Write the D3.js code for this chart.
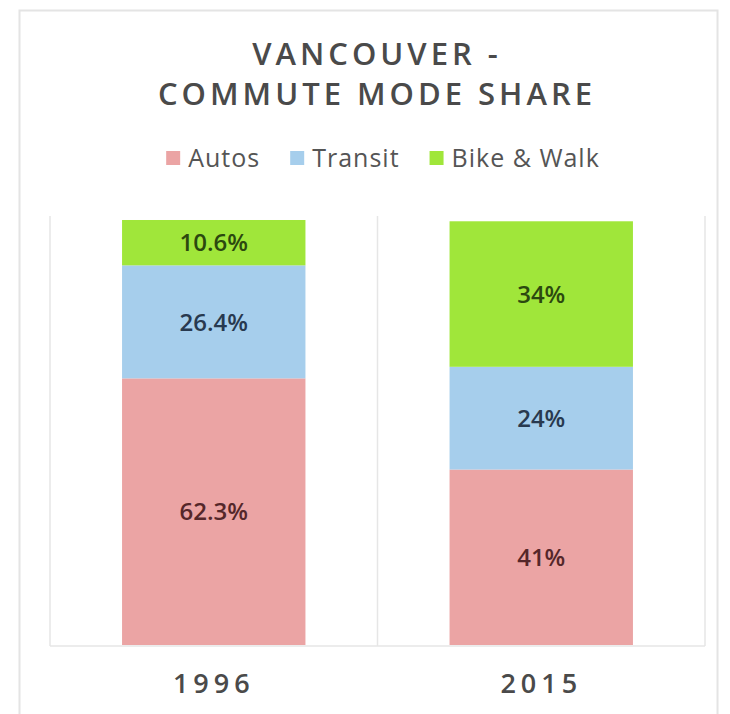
<!DOCTYPE html>
<html lang="en">
<head>
    <meta charset="UTF-8">
    <title>Vancouver - Commute Mode Share</title>
    <style>
        body {
            margin: 0;
            padding: 0;
            background-color: #fff;
        }

        svg text {
            font-family: "Open Sans", "DejaVu Sans", sans-serif;
        }
    </style>
</head>
<body>

<svg id="chart" width="730" height="714"></svg>

<script src="https://d3js.org/d3.v7.min.js"></script>
<script>
    // chart data
    const years = ["1996", "2015"];
    const modes = ["Autos", "Transit", "Bike & Walk"];
    const autos = [62.3, 41];
    const transit = [26.4, 24];
    const bikeWalk = [10.6, 34];
    const valueLabels = [
        ["62.3%", "41%"],
        ["26.4%", "24%"],
        ["10.6%", "34%"]
    ];
    const titleLines = ["VANCOUVER -", "COMMUTE MODE SHARE"];

    const fills = ["#eba4a4", "#a6ceec", "#a0e63a"];
    const labelColors = ["#55272a", "#28394f", "#2c480f"];

    const width = 730, height = 714;
    const plot = {left: 50, right: 705, top: 216, bottom: 646};

    const svg = d3.select("#chart");

    svg.append("rect")
        .attr("width", width)
        .attr("height", height)
        .attr("fill", "#fff");

    // outer chart frame
    svg.append("rect")
        .attr("x", 19.5)
        .attr("y", 10.5)
        .attr("width", 698)
        .attr("height", 720)
        .attr("fill", "none")
        .attr("stroke", "#e4e4e4")
        .attr("stroke-width", 2);

    // title
    svg.append("text")
        .attr("text-anchor", "middle")
        .attr("fill", "#4a4a4a")
        .style("font-size", "31px")
        .style("font-weight", 600)
        .style("letter-spacing", "4px")
        .selectAll("tspan")
        .data(titleLines)
        .enter().append("tspan")
        .attr("x", 377)
        .attr("y", (d, i) => 65 + i * 40)
        .text(d => d);

    // stack the series
    const rows = years.map((y, i) => ({year: y, Autos: autos[i], Transit: transit[i], "Bike & Walk": bikeWalk[i]}));
    const series = d3.stack().keys(modes)(rows);

    const x = d3.scaleBand()
        .domain(years)
        .range([plot.left, plot.right])
        .paddingInner(0.44)
        .paddingOuter(0.22);

    const y = d3.scaleLinear()
        .domain([0, 100])
        .range([plot.bottom - 1, plot.top + 1]);

    // plot area gridlines (category boundaries + baseline)
    const step = x.step();
    const bounds = [plot.left].concat(years.map(d => x(d) + x.bandwidth() / 2 + step / 2));
    svg.append("g")
        .selectAll("line")
        .data(bounds)
        .enter().append("line")
        .attr("x1", d => d)
        .attr("x2", d => d)
        .attr("y1", plot.top)
        .attr("y2", plot.bottom)
        .attr("stroke", "#e6e6e6")
        .attr("stroke-width", 1.5);

    svg.append("line")
        .attr("x1", plot.left)
        .attr("x2", plot.right)
        .attr("y1", plot.bottom)
        .attr("y2", plot.bottom)
        .attr("stroke", "#e6e6e6")
        .attr("stroke-width", 1.5);

    // bars
    const layers = svg.append("g")
        .selectAll("g")
        .data(series)
        .enter().append("g")
        .attr("fill", (d, i) => fills[i]);

    layers.selectAll("rect")
        .data(d => d)
        .enter().append("rect")
        .attr("x", d => x(d.data.year))
        .attr("y", d => y(d[1]))
        .attr("width", x.bandwidth())
        .attr("height", d => y(d[0]) - y(d[1]));

    // value labels
    series.forEach((s, si) => {
        svg.append("g")
            .selectAll("text")
            .data(s)
            .enter().append("text")
            .attr("x", d => x(d.data.year) + x.bandwidth() / 2)
            .attr("y", d => (y(d[0]) + y(d[1])) / 2)
            .attr("dy", "0.36em")
            .attr("text-anchor", "middle")
            .attr("fill", labelColors[si])
            .style("font-size", "24px")
            .style("font-weight", 600)
            .text((d, i) => valueLabels[si][i]);
    });

    // x axis
    const xAxis = svg.append("g")
        .attr("transform", "translate(0," + plot.bottom + ")")
        .call(d3.axisBottom(x).tickSize(0).tickPadding(0));

    xAxis.select(".domain").remove();
    xAxis.selectAll("text")
        .attr("y", 47)
        .attr("dy", 0)
        .attr("fill", "#4a4a4a")
        .style("font-size", "27px")
        .style("font-weight", 600)
        .style("letter-spacing", "5px")
        .style("font-family", "'Open Sans', sans-serif");

    // legend
    const legend = svg.append("g");
    const items = legend.selectAll("g")
        .data(modes)
        .enter().append("g");

    items.append("rect")
        .attr("width", 14)
        .attr("height", 14)
        .attr("y", 151)
        .attr("fill", (d, i) => fills[i]);

    items.append("text")
        .attr("x", 22)
        .attr("y", 167)
        .attr("fill", "#555")
        .style("font-size", "25px")
        .style("letter-spacing", "1px")
        .text(d => d);

    let offset = 0;
    const gap = 30;
    items.each(function () {
        const w = this.getBBox().width;
        d3.select(this).attr("transform", "translate(" + offset + ",0)");
        offset += w + gap;
    });
    const legendWidth = offset - gap;
    legend.attr("transform", "translate(" + (383 - legendWidth / 2) + ",0)");
</script>

</body>
</html>
